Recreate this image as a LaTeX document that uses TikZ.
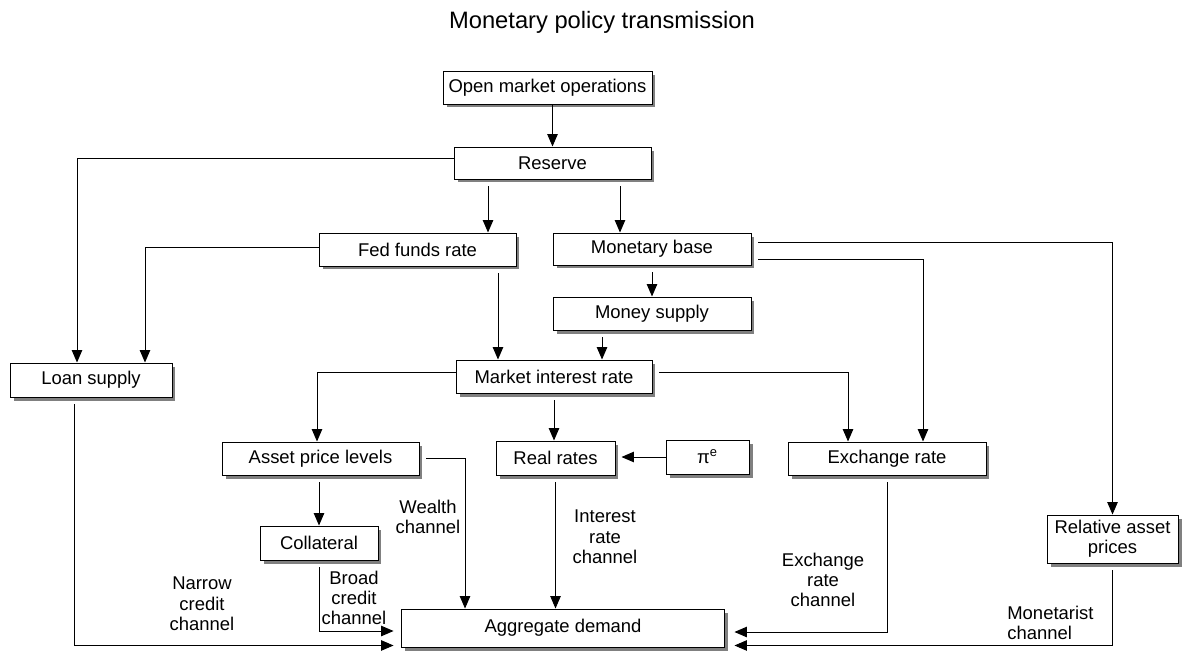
\documentclass[tikz,border=0pt]{standalone}
\usepackage{fontspec}
\setmainfont{Liberation Sans}
\usetikzlibrary{arrows.meta,shadows}
\tikzset{
  box/.style={draw, fill=white, line width=0.55pt, inner sep=0pt, minimum height=0.66cm,
    align=center, font=\fontsize{10.5pt}{11.6pt}\selectfont,
    drop shadow={shadow xshift=0.07cm, shadow yshift=-0.07cm, fill=black!50, opacity=1}},
  link/.style={line width=0.55pt, -{Triangle[length=0.25cm, width=0.21cm]}},
  gap/.style={shorten <=0.14cm},
  chan/.style={align=center, inner sep=0pt, font=\fontsize{10.5pt}{11.6pt}\selectfont}
}
\begin{document}
\begin{tikzpicture}[x=0.02cm, y=-0.02cm]
  \useasboundingbox (0,0) rectangle (1182,652);
  \node[font=\fontsize{13.5pt}{16pt}\selectfont] (title) at (602,22) {Monetary policy transmission};
  \node[box, minimum width=4.18cm] (omo) at (547.5,87.5) {Open market operations};
  \node[box, minimum width=3.94cm, minimum height=0.64cm] (res) at (552.5,163) {Reserve};
  \node[box, minimum width=3.94cm] (ffr) at (417.5,249.5) {Fed funds rate};
  \node[box, minimum width=3.96cm, minimum height=0.64cm] (mb) at (652,249) {Monetary base};
  \node[box, minimum width=3.96cm] (ms) at (652,313.5) {Money supply};
  \node[box, minimum width=3.92cm] (mir) at (554,376.5) {Market interest rate};
  \node[box, minimum width=3.24cm, minimum height=0.68cm] (ls) at (91,380) {Loan supply};
  \node[box, minimum width=3.94cm] (apl) at (320.5,458.5) {Asset price levels};
  \node[box, minimum width=2.36cm, minimum height=0.68cm] (col) at (319,543) {Collateral};
  \node[box, minimum width=2.38cm, minimum height=0.68cm] (rr) at (555.5,458) {Real rates};
  \node[box, minimum width=1.66cm, minimum height=0.68cm] (pie) at (707.5,457) {π\textsuperscript{e}};
  \node[box, minimum width=3.96cm] (er) at (887,458.5) {Exchange rate};
  \node[box, minimum width=2.62cm, minimum height=0.96cm] (rap) at (1112.5,539) {Relative asset\\prices};
  \node[box, minimum width=6.48cm, minimum height=0.76cm] (ad) at (563,628) {Aggregate demand};

  \draw[link] (omo.south -| res.north) -- (res.north);
  \draw[link] ([yshift=0.1cm]res.west) -| ([xshift=-0.28cm]ls.north);
  \draw[link, gap] ([xshift=-1.29cm]res.south) -- ([xshift=-1.29cm]res.south |- ffr.north);
  \draw[link, gap] ([xshift=1.35cm]res.south) -- ([xshift=1.35cm]res.south |- mb.north);
  \draw[link] ([yshift=0.05cm]ffr.west) -| ([xshift=1.08cm]ls.north);
  \draw[link, gap] ([xshift=1.61cm]ffr.south) -- ([xshift=1.61cm]ffr.south |- mir.north);
  \draw[link, gap] (mb.south) -- (ms.north);
  \draw[link, gap] ([xshift=-1cm]ms.south) -- ([xshift=-1cm]ms.south |- mir.north);
  \draw[link, gap] ([yshift=0.14cm]mb.east) -| (rap.north);
  \draw[link, gap] ([yshift=-0.2cm]mb.east) -| ([xshift=0.72cm]er.north);
  \draw[link, gap] ([yshift=0.09cm]mir.east) -| ([xshift=-0.78cm]er.north);
  \draw[link] ([yshift=0.09cm]mir.west) -| ([xshift=-0.07cm]apl.north);
  \draw[link, gap] (mir.south) -- (mir.south |- rr.north);
  \draw[link, shorten >=0.12cm] (pie.west) -- (pie.west -| rr.east);
  \draw[link, gap] (apl.south -| col.north) -- (col.north);

  \draw[link, gap] (apl.east) -| ([xshift=-1.96cm]ad.north);
  \node[chan] (wealth) at (428,517) {Wealth\\channel};
  \draw[link, gap] (rr.south) -- (rr.south |- ad.north);
  \node[chan] (irc) at (605,537) {Interest\\rate\\channel};
  \draw[link, gap, shorten >=0.14cm] (col.south) |- ([yshift=-0.06cm]ad.west);
  \node[chan] (bcc) at (354,598) {Broad\\credit\\channel};
  \draw[link, gap, shorten >=0.14cm] ([xshift=-0.34cm]ls.south) |- ([yshift=0.04cm]ad.south west);
  \node[chan] (ncc) at (202,604) {Narrow\\credit\\channel};
  \draw[link, gap, shorten >=0.18cm] (er.south) |- ([yshift=-0.08cm]ad.east);
  \node[chan] (erc) at (823,580) {Exchange\\rate\\channel};
  \draw[link, gap, shorten >=0.18cm] (rap.south) |- ([yshift=0.04cm]ad.south east);
  \node[chan, align=left, anchor=west] (mc) at (1007,623) {Monetarist\\channel};
\end{tikzpicture}
\end{document}
